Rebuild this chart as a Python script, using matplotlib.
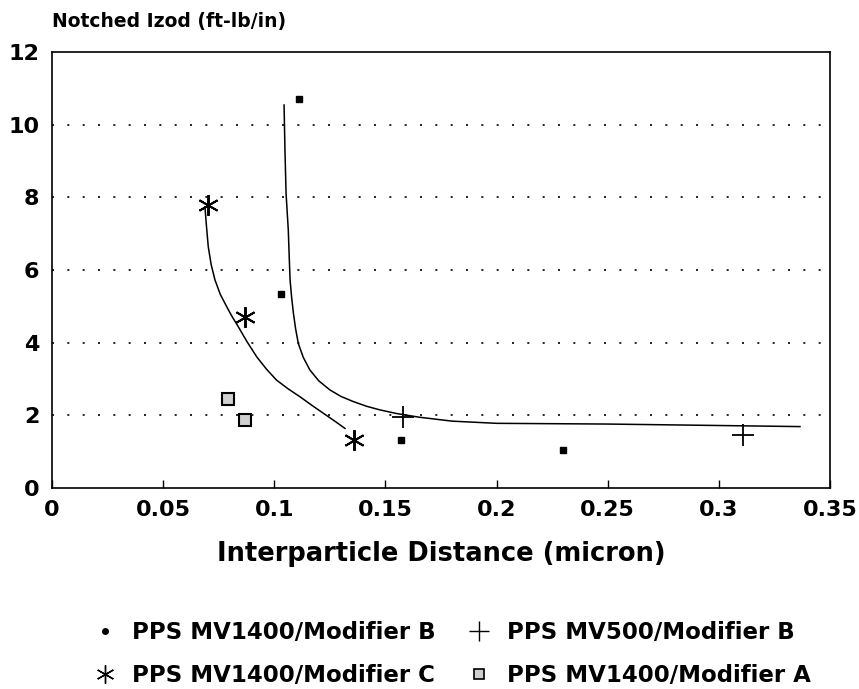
import matplotlib
matplotlib.use("Agg")
import matplotlib.pyplot as plt
from matplotlib.lines import Line2D

plt.rcParams['font.family'] = ['DejaVu Sans']
plt.rcParams['font.weight'] = 'bold'

# Data points
mv1400_b_x = [0.111, 0.103, 0.157, 0.230]
mv1400_b_y = [10.7, 5.35, 1.32, 1.05]

mv500_b_x = [0.158, 0.311]
mv500_b_y = [1.95, 1.45]

mv1400_c_x = [0.070, 0.087, 0.136]
mv1400_c_y = [7.78, 4.70, 1.32]

mv1400_a_x = [0.079, 0.087]
mv1400_a_y = [2.45, 1.88]

# Fitted curves
fit_c_x = [0.0688, 0.0695, 0.0703, 0.0716, 0.0733, 0.0757, 0.0786, 0.0810, 0.0838, 0.0878,
           0.0921, 0.0965, 0.101, 0.1062, 0.1116, 0.1168, 0.122, 0.127, 0.1318]
fit_c_y = [7.74, 7.20, 6.64, 6.15, 5.73, 5.33, 4.99, 4.72, 4.44, 4.02,
           3.61, 3.27, 2.97, 2.73, 2.51, 2.28, 2.06, 1.85, 1.64]

fit_b_x = [0.1044, 0.1048, 0.1053, 0.1058, 0.1063, 0.1067, 0.1071, 0.1078, 0.1086, 0.1096,
           0.1108, 0.1130, 0.116, 0.120, 0.125, 0.130, 0.1355, 0.1415, 0.1475,
           0.155, 0.165, 0.180, 0.200, 0.250, 0.300, 0.3365]
fit_b_y = [10.54, 9.30, 8.11, 7.60, 7.10, 6.40, 5.73, 5.25, 4.81, 4.38,
           3.98, 3.60, 3.25, 2.95, 2.70, 2.52, 2.38, 2.25, 2.15,
           2.05, 1.95, 1.84, 1.78, 1.76, 1.72, 1.69]

xticks = [0, 0.05, 0.1, 0.15, 0.2, 0.25, 0.3, 0.35]
xticklabels = ['0', '0.05', '0.1', '0.15', '0.2', '0.25', '0.3', '0.35']
yticks = [0, 2, 4, 6, 8, 10, 12]

fig = plt.figure(figsize=(8.59, 6.89), dpi=100)
ax = fig.add_axes([52/859, 1-488/689, (830-52)/859, (488-52)/689])

for yv in yticks[1:-1]:
    ax.axhline(yv, color='black', lw=1.2, linestyle=(0, (1.2, 8)), zorder=1)

ax.plot(fit_c_x, fit_c_y, color='black', lw=1.1, zorder=2)
ax.plot(fit_b_x, fit_b_y, color='black', lw=1.1, zorder=2)

star = (6, 2, 0)
ax.plot(mv1400_b_x, mv1400_b_y, linestyle='none', marker='s', markersize=4.5, color='black', zorder=3)
ax.plot(mv500_b_x, mv500_b_y, linestyle='none', marker='+', markersize=16, mew=1.3, color='black', zorder=3)
ax.plot(mv1400_c_x, mv1400_c_y, linestyle='none', marker=star, markersize=15, mew=1.4, color='black', zorder=3)
ax.plot(mv1400_a_x, mv1400_a_y, linestyle='none', marker='s', markersize=8, mfc='#d0d0d0', mec='black', mew=1.5, zorder=3)

ax.set_xlim(0, 0.35)
ax.set_ylim(0, 12)
ax.set_xticks(xticks)
ax.set_xticklabels(xticklabels)
ax.set_yticks(yticks)
ax.tick_params(axis='x', direction='in', length=6, width=1, pad=9, labelsize=16)
ax.tick_params(axis='y', length=0, pad=9, labelsize=16)
for lab in ax.get_xticklabels() + ax.get_yticklabels():
    lab.set_fontweight('bold')
for s in ax.spines.values():
    s.set_linewidth(1.2)

ax.set_xlabel('Interparticle Distance (micron)', fontsize=18.5, fontweight='bold', labelpad=15)
fig.text(52/859, 1-22/689, 'Notched Izod (ft-lb/in)', fontsize=13.5, fontweight='bold', ha='left', va='center')

handles = [
    Line2D([], [], linestyle='none', marker='o', markersize=4, color='black'),
    Line2D([], [], linestyle='none', marker=star, markersize=13, mew=1.0, color='black'),
    Line2D([], [], linestyle='none', marker='+', markersize=14, mew=1.0, color='black'),
    Line2D([], [], linestyle='none', marker='s', markersize=7, mfc='#d0d0d0', mec='black', mew=1.2),
]
labels = ['PPS MV1400/Modifier B', 'PPS MV1400/Modifier C', 'PPS MV500/Modifier B', 'PPS MV1400/Modifier A']
leg = fig.legend(handles, labels, ncol=2, loc='center', bbox_to_anchor=(452/859, 1-654/689),
                 frameon=False, handlelength=1.0, handletextpad=0.7,
                 columnspacing=1.4, labelspacing=0.85, borderpad=0.2,
                 prop={'weight': 'bold', 'size': 16.5})

fig.savefig('out.png', dpi=100)
